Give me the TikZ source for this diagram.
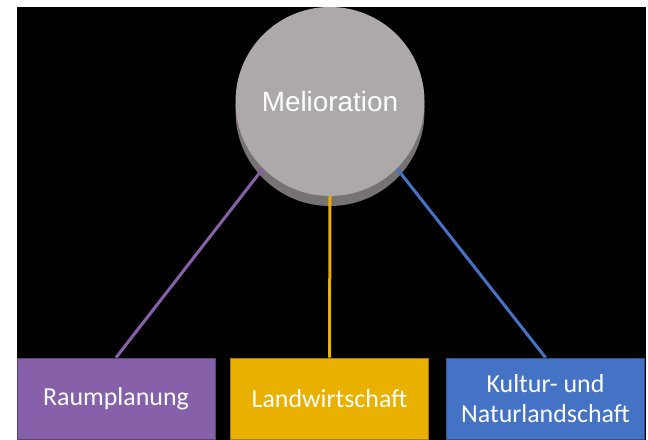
\documentclass[tikz,border=0pt]{standalone}
\usepackage{fontspec}
\setmainfont{Carlito}
\newfontfamily\hubfont{Liberation Sans}

\pgfdeclarelayer{backdrop}
\pgfdeclarelayer{rim}
\pgfdeclarelayer{links}
\pgfsetlayers{backdrop,rim,links,main}

\definecolor{hubface}{HTML}{ADA9A8}
\definecolor{hubrim}{HTML}{777372}
\definecolor{raumcol}{HTML}{8660A9}
\definecolor{landcol}{HTML}{EAB000}
\definecolor{kultcol}{HTML}{4472C4}

\newcommand\boxw{198bp}
\newcommand\boxh{81bp}
\newcommand\boxy{41.5}
\newcommand\hubd{189bp}

\tikzset{
  leafbox/.style={draw=#1!70!black, fill=#1, line width=0.8bp,
    minimum width=\boxw, minimum height=\boxh, inner sep=0pt,
    text=white, align=center, font=\fontsize{26}{30}\selectfont},
  hub/.style={circle, fill=hubface, minimum size=\hubd, inner sep=0pt,
    text=white, font=\hubfont\fontsize{28}{34}\selectfont},
  link/.style={line width=3bp, draw=#1}
}

\begin{document}
\begin{tikzpicture}[x=1bp,y=1bp]
    \useasboundingbox (0,0) rectangle (648,440);
    \begin{pgfonlayer}{backdrop}
      \fill[white] (0,0) rectangle (648,440);
      \fill[black] (17,0) rectangle (646,433);
    \end{pgfonlayer}

    \node[hub] (melio) at (330,338.5) {Melioration};
    \begin{pgfonlayer}{rim}
      \node[circle, fill=hubrim, minimum size=\hubd, inner sep=0pt] (meliorim) at (330,328.5) {};
    \end{pgfonlayer}

    \node[leafbox=raumcol] (raum) at (116,\boxy) {Raumplanung};
    \node[leafbox=landcol] (land) at (329.5,\boxy) {Landwirtschaft};
    \node[leafbox=kultcol] (kult) at (545.5,\boxy) {Kultur- und\\ Naturlandschaft};

    \begin{pgfonlayer}{links}
      \draw[link=raumcol] (melio.225) -- (raum.north);
      \draw[link=landcol] (melio.south) -- (land.north);
      \draw[link=kultcol] (melio.315) -- (kult.north);
    \end{pgfonlayer}
\end{tikzpicture}
\end{document}
